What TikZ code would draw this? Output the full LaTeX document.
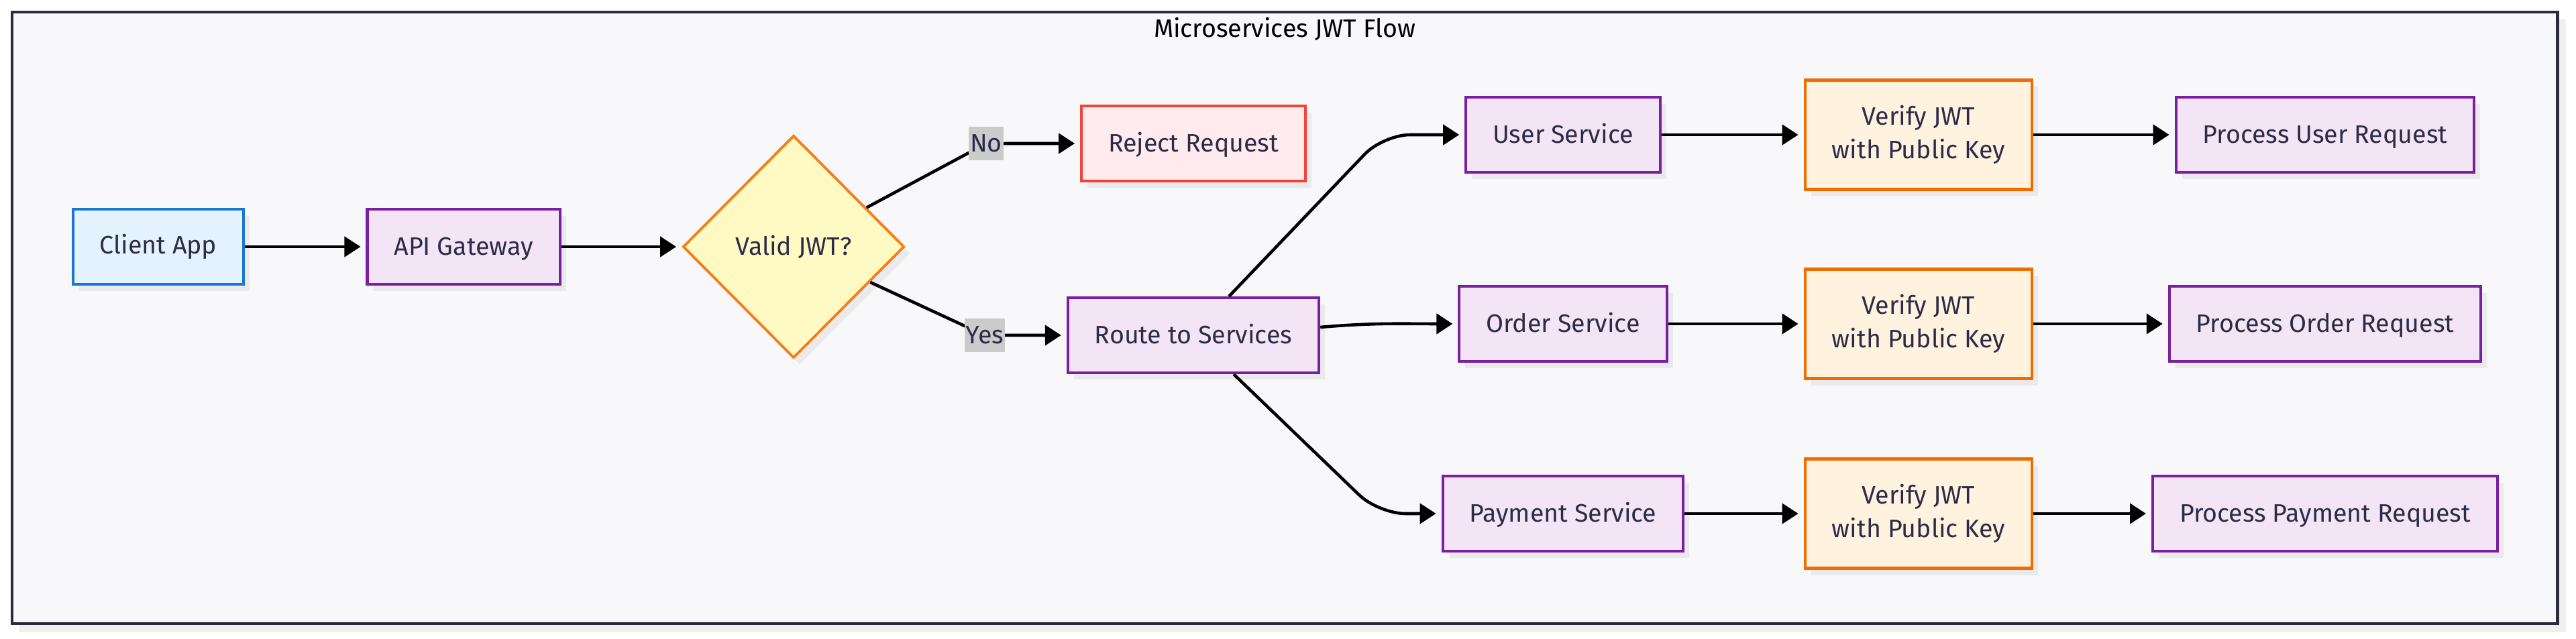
\documentclass[tikz,border=0pt]{standalone}
\usepackage{fontspec}
\setmainfont{Fira Sans}
\usepackage{tikz}
\usetikzlibrary{arrows.meta,shapes.geometric,shadows}

\definecolor{clientfill}{HTML}{E3F2FD}
\definecolor{clientdraw}{HTML}{1976D2}
\definecolor{svcfill}{HTML}{F3E5F5}
\definecolor{svcdraw}{HTML}{7B1FA2}
\definecolor{checkfill}{HTML}{FFF9C4}
\definecolor{checkdraw}{HTML}{F57F17}
\definecolor{rejectfill}{HTML}{FFEBEE}
\definecolor{rejectdraw}{HTML}{F44336}
\definecolor{verifyfill}{HTML}{FFF3E0}
\definecolor{verifydraw}{HTML}{EF6C00}
\definecolor{framefill}{HTML}{F8F8FA}
\definecolor{framedraw}{HTML}{2A2A40}
\definecolor{frameshadow}{HTML}{F0F0F0}
\definecolor{shadowgray}{HTML}{EAEAEC}
\definecolor{labelgray}{HTML}{CBCBCB}
\definecolor{inktext}{HTML}{2C2C48}

\begin{document}
\begin{tikzpicture}[font=\fontsize{10.7pt}{14.2pt}\selectfont]
        \tikzset{box/.style = {shape=rectangle,draw,line width=1.15pt,text=inktext,inner xsep=0.4cm,minimum height=1.12cm,
                general shadow={shadow xshift=0.09cm,shadow yshift=-0.1cm,fill=shadowgray}}}
        \tikzset{client/.style = {box,fill=clientfill,draw=clientdraw}}
        \tikzset{service/.style = {box,fill=svcfill,draw=svcdraw,text height=1.6ex,text depth=0.3ex}}
        \tikzset{reject/.style = {box,fill=rejectfill,draw=rejectdraw,text height=1.6ex,text depth=0.3ex}}
        \tikzset{verify/.style = {box,fill=verifyfill,draw=verifydraw,line width=1.3pt,align=center,minimum height=1.63cm}}
        \tikzset{decision/.style = {shape=diamond,draw=checkdraw,fill=checkfill,line width=1.1pt,text=inktext,
                minimum width=3.3cm,minimum height=3.32cm,inner sep=0pt,
                general shadow={shadow xshift=0.09cm,shadow yshift=-0.1cm,fill=shadowgray}}}
        \tikzset{edgelabel/.style = {shape=rectangle,sharp corners,fill=labelgray,text=inktext,inner xsep=0.5pt,inner ysep=0pt,
                minimum height=0.5cm}}
        \tikzset{flow/.style = {line width=1.3pt,-{Triangle[length=0.24cm,width=0.3cm]},shorten >=0.08cm}}
        \useasboundingbox (0,0) rectangle (38.40,-9.53);
        % frame
        \fill[frameshadow] (0.28,-0.28) rectangle (38.25,-9.43);
        \draw[framedraw,fill=framefill,line width=1.4pt] (0.18,-0.18) rectangle (38.12,-9.30);
        \node (title) at (19.15,-0.43) {Microservices JWT Flow};
        % vertices
        \node[client] (client) at (2.36,-3.68) {Client App};
        \node[service] (api) at (6.91,-3.68) {API Gateway};
        \node[decision] (valid) at (11.83,-3.68) {Valid JWT?};
        \node[reject] (reject) at (17.79,-2.14) {Reject Request};
        \node[service] (route) at (17.79,-5.00) {Route to Services};
        \node[service] (user) at (23.30,-2.01) {User Service};
        \node[service] (order) at (23.30,-4.83) {Order Service};
        \node[service] (payment) at (23.30,-7.66) {Payment Service};
        \node[verify] (verifyuser) at (28.60,-2.01) {Verify JWT\\with Public Key};
        \node[verify] (verifyorder) at (28.60,-4.83) {Verify JWT\\with Public Key};
        \node[verify] (verifypay) at (28.60,-7.66) {Verify JWT\\with Public Key};
        \node[service] (procuser) at (34.66,-2.01) {Process User Request};
        \node[service] (procorder) at (34.66,-4.83) {Process Order Request};
        \node[service] (procpay) at (34.66,-7.66) {Process Payment Request};
        %edges
        \draw[flow] (client) -- (api);
        \draw[flow] (api) -- (valid);
        \draw[flow,rounded corners=0.3cm] (valid) -- (14.70,-2.14) node[edgelabel] (no) {No} -- (reject);
        \draw[flow,rounded corners=0.3cm] (valid) -- (14.68,-5.00) node[edgelabel] (yes) {Yes} -- (route);
        \draw[flow,rounded corners=0.4cm] ([xshift=0.53cm]route.north) -- (20.62,-2.01) -- (user);
        \draw[flow] ([yshift=0.12cm]route.east) to[out=5,in=180] (order.west);
        \draw[flow,rounded corners=0.4cm] ([xshift=0.6cm]route.south) -- (20.55,-7.66) -- (payment);
        \draw[flow] (user) -- (verifyuser);
        \draw[flow] (order) -- (verifyorder);
        \draw[flow] (payment) -- (verifypay);
        \draw[flow] (verifyuser) -- (procuser);
        \draw[flow] (verifyorder) -- (procorder);
        \draw[flow] (verifypay) -- (procpay);
\end{tikzpicture}
\end{document}
